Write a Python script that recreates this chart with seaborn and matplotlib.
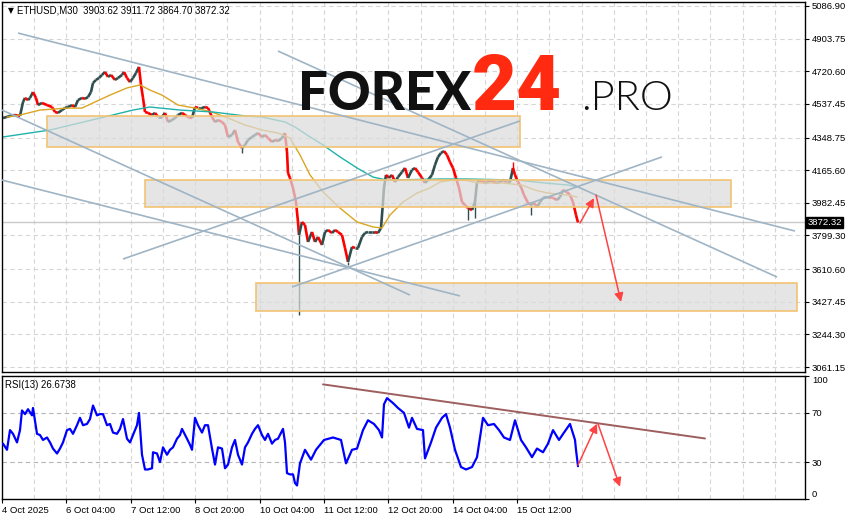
import numpy as np
import pandas as pd
import matplotlib
matplotlib.use("Agg")
import matplotlib.pyplot as plt
import seaborn as sns
from matplotlib.collections import LineCollection
from matplotlib.patches import Rectangle, FancyArrowPatch
from matplotlib.transforms import blended_transform_factory

# ---------------- data ----------------
symbol = "ETHUSD,M30"
ohlc_last = [3903.62, 3911.72, 3864.70, 3872.32]
last_price = 3872.32
rsi_period = 13
rsi_last = 26.6738

bar = [3,10,15,20,23,25,28,30,33,36,38,42,47,52,55,58,62,65,68,72,75,78,82,85,88,91,93,96,99,102,
       105,108,111,115,118,122,124,127,130,133,136,139,141,143,145,148,152,155,158,162,165,168,172,175,178,182,185,188,192,195,
       198,202,205,208,212,215,218,222,225,228,232,235,238,242,245,248,252,255,258,262,265,268,272,275,278,282,285,287,288,290,
       293,296,298,299,302,305,308,312,315,318,322,325,328,332,335,338,342,345,348,352,355,358,362,365,368,372,375,378,381,383,
       384,386,389,392,395,398,402,405,408,412,415,418,422,425,428,432,435,438,441,444,447,450,453,456,459,462,465,468,472,475,
       477,480,483,487,490,493,497,500,503,507,510,513,515,518,521,524,528,531,534,537,540,543,547,550,553,557,560,563,567,570,
       573,576,578]
close = [4458,4470,4475,4470,4548,4571,4559,4571,4604,4571,4531,4543,4531,4520,4492,4487,4503,4515,4520,4531,
         4520,4559,4571,4566,4576,4604,4655,4672,4683,4700,4717,4689,4700,4672,4683,4700,4717,4683,4660,4683,
         4711,4745,4644,4571,4492,4487,4475,4487,4464,4464,4487,4436,4447,4458,4475,4487,4475,4464,4458,4520,
         4515,4515,4520,4515,4464,4436,4447,4436,4419,4352,4363,4391,4324,4290,4307,4335,4352,4363,4374,4352,
         4363,4346,4324,4335,4329,4346,4374,4268,4150,4122,4066,3987,3875,3802,3875,3858,3763,3819,3763,3791,
         3746,3819,3830,3813,3830,3819,3802,3729,3651,3735,3729,3729,3791,3813,3819,3819,3819,3813,3841,3987,
         4066,4139,4122,4139,4099,4127,4155,4178,4122,4167,4178,4155,4122,4094,4111,4139,4195,4240,4262,4273,
         4251,4211,4178,4122,4066,3987,3970,3953,3942,3987,4099,4111,4099,4094,4111,4099,4094,4099,4111,4099,
         4099,4178,4139,4099,4071,4026,3982,3970,3982,3959,3987,4010,4015,4015,4010,3998,4015,4054,4043,4026,
         3987,3914,3872.32]

wick_bar = [299, 242, 348, 468, 475, 531, 513]
wick_end = [3353, 4262, 3634, 3886, 3897, 3914, 4211]

ma_fast_bar = [7,20,40,67,82,93,110,127,140,150,162,178,195,212,228,245,262,278,290,300,
               310,323,340,357,373,382,390,403,417,430,440,452,465,478,502,522,535,548,568,577]
ma_fast = [4464,4475,4503,4514,4514,4543,4587,4627,4644,4615,4587,4531,4514,4492,4458,4419,4391,4374,4346,4251,
           4139,4043,3953,3875,3847,3841,3914,3987,4037,4066,4099,4110,4110,4094,4094,4082,4054,4037,4026,4015]

ma_slow_bar = [3,50,100,133,150,180,213,245,262,285,295,307,323,340,357,373,387,440,468,518,535,568,577]
ma_slow = [4352,4391,4458,4503,4520,4503,4492,4470,4464,4436,4408,4363,4307,4240,4178,4127,4110,4116,4116,4110,4099,4082,4071]

rsi_bar = [3,7,10,13,17,20,22,25,28,32,33,37,40,43,47,50,53,57,60,63,67,70,73,77,80,83,87,90,93,97,
           100,103,107,110,113,117,120,123,127,130,133,137,139,142,145,148,152,153,157,160,163,167,170,173,177,180,182,187,190,192,
           195,198,202,205,208,212,215,218,222,225,228,232,235,238,242,245,248,252,255,258,262,265,268,272,275,278,283,285,287,290,
           293,295,297,300,305,311,316,324,333,341,346,352,357,363,368,374,379,382,384,387,393,398,404,409,412,417,423,425,431,436,
           442,446,450,455,461,466,472,477,483,488,494,499,504,510,515,521,526,532,537,543,548,553,559,564,570,575,576,578]
rsi = [45,40,56,53,46,56,72,69,73,68,74,53,52,48,50,46,41,37,41,46,56,57,53,60,66,60,61,65,76,68,
       69,69,60,61,54,53,57,65,49,46,52,60,70,36,24,24,25,38,37,30,42,36,40,42,49,52,57,49,44,40,
       66,60,54,60,60,41,28,42,41,25,28,42,48,36,28,42,46,53,57,60,52,48,53,45,48,49,57,46,21,20,
       20,13,11,29,40,32,40,48,50,48,29,40,41,56,64,61,56,50,77,82,78,74,70,58,66,57,56,33,46,58,
       66,69,58,40,26,24,26,34,66,60,61,56,50,48,64,48,42,34,41,38,45,56,48,54,61,48,40,26.6738]

price_ticks = [5086.90, 4903.75, 4720.60, 4537.45, 4348.75, 4165.60, 3982.45, 3799.30, 3610.60, 3427.45, 3244.30, 3061.15]
rsi_ticks = [0, 30, 70, 100]
time_labels = ["4 Oct 2025", "6 Oct 04:00", "7 Oct 12:00", "8 Oct 20:00", "10 Oct 04:00",
               "11 Oct 12:00", "12 Oct 20:00", "14 Oct 04:00", "15 Oct 12:00"]

# zones: (start bar, end bar, low, high)
zone_start = [47, 145, 256]
zone_end = [520, 731, 797]
zone_low = [4296, 3959, 3375]
zone_high = [4470, 4110, 3532]

# trend lines: (bar0, price0, bar1, price1)
tl_x0 = [18, 278, 123, 292, 2, 2]
tl_p0 = [4935, 4834, 3667, 3510, 4503, 4110]
tl_x1 = [795, 777, 520, 662, 410, 460]
tl_p1 = [3824, 3566, 4442, 4240, 3465, 3460]

# forecast arrows (price panel)
fc_x = [580, 594, 596, 621]
fc_p = [3869, 4009, 4026, 3426]
# RSI trend line and arrows
rsi_tl_x = [323, 705]
rsi_tl_v = [93.2, 49.2]
rsi_fc_x = [578, 597, 598, 620]
rsi_fc_v = [27.6, 61.2, 61, 10]

# ---------------- style ----------------
sns.set_theme(style="white")
plt.rcParams['font.family'] = ['Liberation Sans', 'DejaVu Sans']

W, H = 850, 520
fig = plt.figure(figsize=(8.5, 5.2), dpi=100)
fig.patch.set_facecolor("white")

def box(l, t, r, b):
    return [l / W, 1 - b / H, (r - l) / W, (b - t) / H]

ax = fig.add_axes(box(2, 2, 805, 372))
axr = fig.add_axes(box(2, 376, 805, 499))

XMIN, XMAX = 2, 805
GRID = "#D6D6D6"
for a in (ax, axr):
    a.set_facecolor("white")
    a.set_xlim(XMIN, XMAX)
    for s in a.spines.values():
        s.set_color("black")
        s.set_linewidth(1.0)
        s.set_visible(True)
    for gx in np.arange(XMIN + 32.2, XMAX, 32.2):
        a.axvline(gx, color=GRID, lw=0.8, ls=(0, (4, 3)), zorder=0)

# ---- price panel ----
ax.set_ylim(3033.1, 5109.3)
for p in price_ticks:
    ax.axhline(p, color=GRID, lw=0.8, ls=(0, (4, 3)), zorder=0)
ax.yaxis.tick_right()
ax.set_yticks(price_ticks)
ax.set_yticklabels([f"{p:.2f}" for p in price_ticks])
ax.tick_params(axis="y", right=True, left=False, length=3, width=0.8, pad=2,
               labelsize=6.8, colors="black", direction="out")
ax.set_xticks([])

# current price line
ax.axhline(last_price, color="#C9C9C9", lw=1.0, zorder=1)

# candles as coloured close-to-close path
xs = np.array(bar, dtype=float)
cs = np.array(close, dtype=float)
segs = [[(xs[i - 1], cs[i - 1]), (xs[i], cs[i])] for i in range(1, len(xs))]
cols = ["#FF0000" if cs[i] < cs[i - 1] else "#2F4F4F" for i in range(1, len(xs))]
ax.add_collection(LineCollection(segs, colors=cols, linewidths=1.9, zorder=2,
                                 capstyle="butt", joinstyle="miter"))
cmap = dict(zip(bar, close))
for b, e in zip(wick_bar, wick_end):
    ax.plot([b, b], [cmap[b], e], color="#2F4F4F" if e < cmap[b] else "#FF0000",
            lw=1.0, zorder=2, solid_capstyle="butt")

# moving averages
df_fast = pd.DataFrame({"bar": ma_fast_bar, "price": ma_fast})
df_slow = pd.DataFrame({"bar": ma_slow_bar, "price": ma_slow})
sns.lineplot(data=df_fast, x="bar", y="price", ax=ax, color="#DAA520", lw=1.0,
             estimator=None, sort=False, zorder=2)
sns.lineplot(data=df_slow, x="bar", y="price", ax=ax, color="#20B2AA", lw=1.0,
             estimator=None, sort=False, zorder=2)
ax.set_xlabel("")
ax.set_ylabel("")
ax.set_xlim(XMIN, XMAX)

# zones
for x0, x1, lo, hi in zip(zone_start, zone_end, zone_low, zone_high):
    ax.add_patch(Rectangle((x0, lo), x1 - x0, hi - lo, facecolor=(0.86, 0.86, 0.86, 0.72),
                           edgecolor="#F3C373", lw=1.2, zorder=3))

# trend lines
for x0, p0, x1, p1 in zip(tl_x0, tl_p0, tl_x1, tl_p1):
    ax.plot([x0, x1], [p0, p1], color="#9FB4C4", lw=1.2, zorder=4, solid_capstyle="butt")

# forecast arrows
def arrow(a, x0, y0, x1, y1):
    a.add_patch(FancyArrowPatch((x0, y0), (x1, y1), arrowstyle="-|>", mutation_scale=13,
                                color="#FF4242", lw=1.1, zorder=6, shrinkA=0, shrinkB=0))

arrow(ax, fc_x[0], fc_p[0], fc_x[1], fc_p[1])
arrow(ax, fc_x[2], fc_p[2], fc_x[3], fc_p[3])

# header text
ax.text(0.007, 0.978, "▼", transform=ax.transAxes, fontsize=5.5, va="center", ha="left",
        color="black", family=["DejaVu Sans"])
ax.text(0.019, 0.978, f"{symbol}  " + " ".join(f"{v:.2f}" for v in ohlc_last),
        transform=ax.transAxes, fontsize=6.9, va="center", ha="left", color="black")

# last price tag
trans = blended_transform_factory(ax.transAxes, ax.transData)
ax.text(1.003, last_price, f"{last_price:.2f}", transform=trans, fontsize=6.8, color="white",
        va="center", ha="left", zorder=10, clip_on=False,
        bbox=dict(boxstyle="square,pad=0.15", facecolor="black", edgecolor="black"))

# logo
fig.text(298 / W, 1 - 110 / H, "FOREX", fontsize=38, fontweight=900, fontstyle="normal",
         family=["Lato", "DejaVu Sans"], color="#111111", ha="left", va="baseline", zorder=20)
fig.text(472 / W, 1 - 110 / H, "24", fontsize=56, fontweight=900, fontstyle="normal",
         family=["Roboto", "DejaVu Sans"], color="#FF2A10", ha="left", va="baseline", zorder=20)
fig.text(581 / W, 1 - 110 / H, ".PRO", fontsize=30, fontweight=300, fontstyle="normal",
         family=["Lato", "DejaVu Sans"], color="#111111", ha="left", va="baseline", zorder=20)

# ---- RSI panel ----
axr.set_ylim(0, 100)
for lv in (30, 70):
    axr.axhline(lv, color="#B5B5B5", lw=0.8, ls=(0, (4, 3)), zorder=0)
df_rsi = pd.DataFrame({"bar": rsi_bar, "rsi": rsi})
sns.lineplot(data=df_rsi, x="bar", y="rsi", ax=axr, color="#0000FF", lw=1.6,
             estimator=None, sort=False, zorder=3)
axr.plot(rsi_tl_x, rsi_tl_v, color="#9E5E5E", lw=1.4, zorder=4)
arrow(axr, rsi_fc_x[0], rsi_fc_v[0], rsi_fc_x[1], rsi_fc_v[1])
arrow(axr, rsi_fc_x[2], rsi_fc_v[2], rsi_fc_x[3], rsi_fc_v[3])
axr.set_xlim(XMIN, XMAX)
axr.set_xlabel("")
axr.set_ylabel("")
axr.yaxis.tick_right()
axr.set_yticks(rsi_ticks)
axr.set_yticklabels([str(v) for v in rsi_ticks])
axr.tick_params(axis="y", right=True, left=False, length=3, width=0.8, pad=2,
                labelsize=6.8, colors="black", direction="out")
for lab, v in zip(axr.get_yticklabels(), rsi_ticks):
    if v == 100:
        lab.set_va("top")
    elif v == 0:
        lab.set_va("bottom")
tick_pos = [XMIN + 64.4 * i for i in range(len(time_labels))]
axr.set_xticks(tick_pos)
axr.set_xticklabels(time_labels)
axr.tick_params(axis="x", bottom=True, length=3, width=0.8, pad=2, labelsize=6.8,
                colors="black", direction="out")
for lab in axr.get_xticklabels():
    lab.set_ha("left")
axr.text(0.004, 0.93, f"RSI({rsi_period}) {rsi_last:.4f}", transform=axr.transAxes,
         fontsize=6.9, va="center", ha="left", color="black")

fig.savefig("out.png", dpi=100, facecolor="white")
